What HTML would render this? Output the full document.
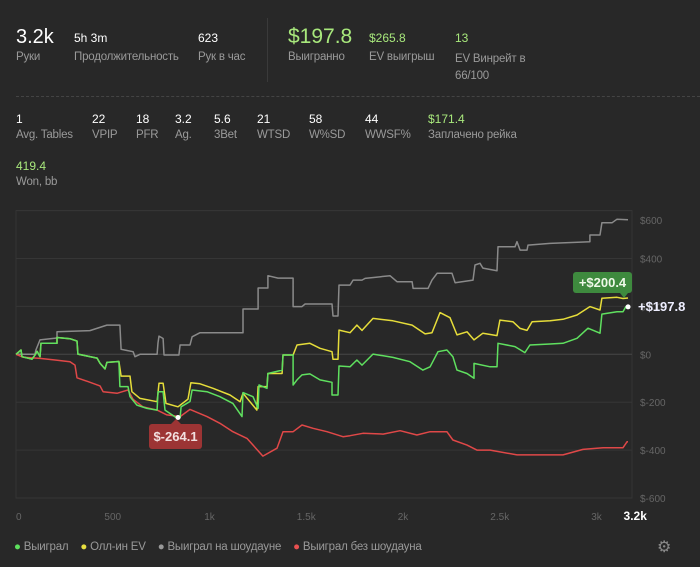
<!DOCTYPE html>
<html><head><meta charset="utf-8">
<style>
body{margin:0;background:#282828;width:700px;height:567px;overflow:hidden;font-family:"Liberation Sans","Noto Sans CJK SC",sans-serif;position:relative}
.s{position:absolute;white-space:nowrap}
.v{color:#fff;font-size:12px}
.l{color:#9a9a9a;font-size:11.5px;letter-spacing:-0.2px}
.g{color:#a8e87c}
</style></head><body>
<div class="s v" style="left:16px;top:26px;font-size:20px">3.2k</div>
<div class="s l" style="left:16px;top:51px">Руки</div>
<div class="s v" style="left:74px;top:31px">5h 3m</div>
<div class="s l" style="left:74px;top:51px">Продолжительность</div>
<div class="s v" style="left:198px;top:31px">623</div>
<div class="s l" style="left:198px;top:51px">Рук в час</div>
<div class="s" style="left:267px;top:18px;width:1px;height:64px;background:#3a3a3a"></div>
<div class="s g" style="left:288px;top:25px;font-size:21px">$197.8</div>
<div class="s l" style="left:288px;top:51px">Выигранно</div>
<div class="s g" style="left:369px;top:31px;font-size:12px">$265.8</div>
<div class="s l" style="left:369px;top:51px">EV выигрыш</div>
<div class="s g" style="left:455px;top:31px;font-size:12px">13</div>
<div class="s l" style="left:455px;top:51px;line-height:17px">EV Винрейт в<br>66/100</div>
<div class="s" style="left:16px;top:96px;width:684px;border-top:1px dashed #444"></div>

<div class="s v" style="left:16px;top:112px">1</div>
<div class="s l" style="left:16px;top:129px">Avg. Tables</div>
<div class="s v" style="left:92px;top:112px">22</div>
<div class="s l" style="left:92px;top:129px">VPIP</div>
<div class="s v" style="left:136px;top:112px">18</div>
<div class="s l" style="left:136px;top:129px">PFR</div>
<div class="s v" style="left:175px;top:112px">3.2</div>
<div class="s l" style="left:175px;top:129px">Ag.</div>
<div class="s v" style="left:214px;top:112px">5.6</div>
<div class="s l" style="left:214px;top:129px">3Bet</div>
<div class="s v" style="left:257px;top:112px">21</div>
<div class="s l" style="left:257px;top:129px">WTSD</div>
<div class="s v" style="left:309px;top:112px">58</div>
<div class="s l" style="left:309px;top:129px">W%SD</div>
<div class="s v" style="left:365px;top:112px">44</div>
<div class="s l" style="left:365px;top:129px">WWSF%</div>
<div class="s g" style="left:428px;top:112px;font-size:12px">$171.4</div>
<div class="s l" style="left:428px;top:129px">Заплачено рейка</div>
<div class="s g" style="left:16px;top:159px;font-size:12px">419.4</div>
<div class="s l" style="left:16px;top:176px">Won, bb</div>

<svg id="chart" class="s" style="left:0;top:0" width="700" height="567"></svg>

<div class="s" style="left:149px;top:424px;width:53px;height:25px;background:#9c3434;border-radius:3px;color:#f2e0e0;font-weight:bold;font-size:13px;line-height:25px;text-align:center">$-264.1</div>
<div class="s" style="left:171px;top:419px;width:0;height:0;border-left:5px solid transparent;border-right:5px solid transparent;border-bottom:5px solid #9c3434"></div>
<div class="s" style="left:573px;top:272px;width:59px;height:21px;background:#3e8a3e;border-radius:3px;color:#eef8e8;font-weight:bold;font-size:13px;line-height:21px;text-align:center">+$200.4</div>
<div class="s" style="left:620px;top:293px;width:0;height:0;border-left:4px solid transparent;border-right:4px solid transparent;border-top:5px solid #3e8a3e"></div>
<div class="s" style="left:638px;top:299px;color:#eef;font-weight:bold;font-size:13px">+$197.8</div>

<div class="s" style="left:14px;top:541px;font-size:11.5px;color:#999;letter-spacing:-0.2px">
<span><span style="color:#5de05d">●</span> Выиграл</span>&nbsp;&nbsp;&nbsp;
<span><span style="color:#e8e040">●</span> Олл-ин EV</span>&nbsp;&nbsp;&nbsp;
<span><span style="color:#999">●</span> Выиграл на шоудауне</span>&nbsp;&nbsp;&nbsp;
<span><span style="color:#e85050">●</span> Выиграл без шоудауна</span></div>
<div class="s" style="left:657px;top:537px;color:#888;font-size:16px">⚙</div>

<script>
const yTicks=[600,400,200,0,-200,-400,-600];
const yTickLabels=['$600','$400','$200','$0','$-200','$-400','$-600'];
const xTicks=[0,500,1000,1500,2000,2500,3000,3200];
const xTickLabels=['0','500','1k','1.5k','2k','2.5k','3k','3.2k'];
const grayHands=[0,98,103,124,212,212,382,470,537,543,605,615,641,729,734,739,760,765,842,848,899,910,951,1173,1173,1251,1251,1302,1302,1354,1432,1432,1478,1494,1633,1638,1664,1669,1726,1742,1788,1804,1933,1969,2047,2052,2129,2150,2176,2253,2269,2362,2372,2398,2413,2486,2491,2579,2589,2605,2641,2646,2760,2966,2966,3018,3028,3080,3106,3163];
const grayValues=[0,0,18,60,68,94,99,122,122,21,11,-10,0,0,48,76,66,-3,-3,39,39,73,90,90,189,189,277,277,328,318,318,199,199,210,210,160,160,289,289,310,310,317,328,303,303,275,275,310,338,338,299,310,373,380,360,349,449,449,470,435,435,456,463,470,498,498,549,549,564,562];
const greenHands=[0,26,31,83,98,109,124,129,212,212,279,315,320,419,434,460,470,532,537,579,589,625,677,729,734,760,770,827,848,853,899,910,987,1054,1121,1168,1173,1225,1251,1256,1297,1302,1375,1380,1432,1432,1452,1478,1519,1571,1633,1633,1664,1669,1726,1762,1788,1845,1948,2036,2103,2140,2181,2227,2258,2279,2331,2367,2367,2450,2486,2491,2579,2630,2656,2760,2827,2899,2956,3018,3028,3106,3137,3152,3163];
const greenValues=[0,18,-10,-20,-3,12,-10,46,46,70,65,55,1,-16,-37,-61,-34,-30,-135,-135,-177,-212,-226,-233,-156,-156,-233,-264,-264,-219,-197,-149,-156,-177,-205,-260,-160,-177,-226,-128,-142,-80,-66,-3,-3,-128,-107,-86,-82,-107,-117,-170,-170,-49,-52,-24,-45,1,-13,-31,-66,-52,11,18,-10,-66,-80,-100,-38,-52,-52,46,32,7,39,43,46,67,109,88,168,178,178,199,198];
const yellowHands=[0,26,31,83,98,109,124,129,212,212,279,315,320,419,434,460,470,532,543,589,599,641,729,739,760,775,837,889,904,951,1018,1106,1158,1173,1245,1251,1297,1302,1375,1380,1432,1452,1519,1571,1633,1638,1664,1669,1726,1762,1788,1845,1948,2047,2114,2150,2191,2243,2279,2331,2367,2413,2486,2501,2568,2605,2641,2667,2760,2827,2899,2966,3018,3028,3106,3137,3163];
const yellowValues=[0,18,-10,-20,-3,12,-10,46,46,70,65,55,1,-16,-37,-61,-34,-30,-91,-91,-156,-184,-198,-121,-121,-205,-219,-187,-119,-123,-142,-170,-198,-163,-233,-135,-135,-80,-80,-3,-3,39,46,25,11,-21,-21,101,90,122,100,150,140,122,85,90,174,153,81,94,60,88,78,143,136,108,100,136,140,146,164,199,185,234,238,233,235];
const redHands=[0,36,124,202,279,305,315,372,434,450,522,579,605,656,729,780,848,899,987,1054,1121,1194,1276,1349,1380,1432,1478,1535,1607,1690,1726,1793,1897,1985,2072,2140,2227,2258,2331,2382,2450,2589,2827,2930,3034,3137,3158,3163];
const redValues=[0,-12,-17,-24,-31,-45,-98,-114,-132,-156,-163,-149,-188,-219,-233,-253,-260,-230,-260,-288,-323,-351,-425,-392,-323,-323,-295,-309,-323,-344,-340,-330,-333,-319,-337,-323,-323,-358,-379,-400,-400,-420,-420,-397,-390,-390,-365,-365];

const svg=document.getElementById('chart');
const NS='http://www.w3.org/2000/svg';
const X0=16,X1=632,Y0=210.6,Y1=498;
const xs=h=>X0+h*0.1935;
const ys=v=>354.3-v*0.2395;
function mk(t,a){const e=document.createElementNS(NS,t);for(const k in a)e.setAttribute(k,a[k]);svg.appendChild(e);return e;}
const frame=mk('rect',{x:X0,y:Y0,width:X1-X0,height:Y1-Y0,fill:'none',stroke:'#333','stroke-width':1});


yTicks.forEach((v,i)=>{
  const g=mk('line',{x1:X0,x2:X1,y1:ys(v),y2:ys(v),stroke:v===0?'#474747':'#363636','stroke-width':1});
  
  
  let ty=ys(v)+4; if(ty<222)ty=224;
  const t=mk('text',{x:640,y:ty,fill:'#666','font-size':10,'font-family':'Liberation Sans, sans-serif'});
  t.textContent=yTickLabels[i];
  
  
});
xTicks.forEach((h,i)=>{
  const last=i===xTicks.length-1;
  const t=mk('text',{x:xs(h),y:520,fill:last?'#fff':'#666','font-size':last?12:10,'font-weight':last?'bold':'normal','text-anchor':i===0?'start':'middle','font-family':'Liberation Sans, sans-serif'});
  t.textContent=xTickLabels[i];
  
  
});
function line(hs,vs,color,name){
  const d=hs.map((h,i)=>(i?'L':'M')+xs(h).toFixed(1)+','+ys(vs[i]).toFixed(1)).join('');
  const p=mk('path',{d:d,fill:'none',stroke:color,'stroke-width':1.5,'stroke-linejoin':'round'});
  
  
}
line(grayHands,grayValues,'#8a8a8a','showdown-line');
line(redHands,redValues,'#e04848','no-showdown-line');
line(yellowHands,yellowValues,'#e6dd3a','allin-ev-line');
line(greenHands,greenValues,'#5fe05f','won-line');
const m1=mk('circle',{cx:xs(827)+2,cy:ys(-264),r:2.5,fill:'#fff'});


const m2=mk('circle',{cx:xs(3163),cy:ys(198),r:2.5,fill:'#fff'});


</script>
</body></html>
